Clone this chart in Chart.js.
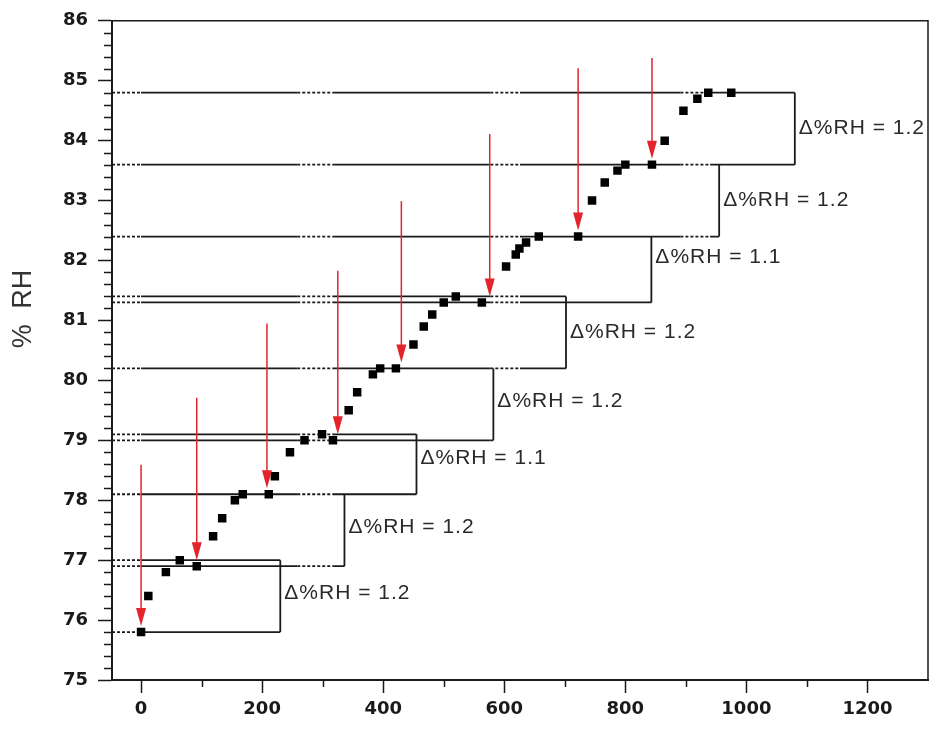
<!DOCTYPE html>
<html>
<head>
<meta charset="utf-8">
<title>% RH steps</title>
<script src="https://cdn.jsdelivr.net/npm/chart.js@4.4.1/dist/chart.umd.min.js"></script>
<style>
  body { margin: 0; background: #fff; }
  #wrap { width: 934px; height: 733px; position: relative; }
</style>
</head>
<body>
<div id="wrap"><canvas id="rhChart"></canvas></div>
<script>
// measured points
const timeValues = [0, 12, 41, 64, 92, 119, 134, 155, 168, 211, 221, 246, 270, 299, 317, 343, 357, 383, 395, 421,
    450, 467, 481, 500, 520, 563, 603, 619, 625, 636, 657, 722, 745, 766, 787, 800, 844, 865, 896, 919, 937, 975];
const rhValues = [75.8, 76.4, 76.8, 77.0, 76.9, 77.4, 77.7, 78.0, 78.1, 78.1, 78.4, 78.8, 79.0, 79.1, 79.0, 79.5, 79.8, 80.1, 80.2, 80.2,
    80.6, 80.9, 81.1, 81.3, 81.4, 81.3, 81.9, 82.1, 82.2, 82.3, 82.4, 82.4, 83.0, 83.3, 83.5, 83.6, 83.6, 84.0, 84.5, 84.7, 84.8, 84.8];

// step brackets
const stepLow = [75.8, 76.9, 78.1, 79.0, 80.2, 81.3, 82.4, 83.6];
const stepHigh = [77.0, 78.1, 79.1, 80.2, 81.4, 82.4, 83.6, 84.8];
const stepX = [230, 336, 455, 582, 702, 843, 955, 1080];
const stepText = ['Δ%RH = 1.2', 'Δ%RH = 1.2', 'Δ%RH = 1.1', 'Δ%RH = 1.2', 'Δ%RH = 1.2', 'Δ%RH = 1.1', 'Δ%RH = 1.2', 'Δ%RH = 1.2'];
const stepTextY = [76.45, 77.55, 78.7, 79.65, 80.8, 82.05, 83.0, 84.2];

// red arrows
const arrowX = [0, 92, 208, 325, 430, 576, 722, 844];
const arrowTop = [78.59, 79.71, 80.95, 81.83, 82.99, 84.11, 85.21, 85.38];
const arrowTarget = [75.8, 76.9, 78.1, 79.0, 80.2, 81.3, 82.4, 83.6];

const xTicks = [0, 200, 400, 600, 800, 1000, 1200];
const yTicks = [75, 76, 77, 78, 79, 80, 81, 82, 83, 84, 85, 86];
const X_MIN = -48;
const X_MAX = 1300;

// dotted runs along the guide lines
const dotRuns = [[258, 316], [577, 626], [891, 940]];

document.addEventListener('DOMContentLoaded', function() {
    const ink = '#1a1a1a';

    // every level line runs out to the furthest bracket that uses it
    const levelEnd = new Map();
    stepLow.concat(stepHigh).forEach((lv, i) => {
        const bx = stepX[i % stepX.length];
        levelEnd.set(lv, Math.max(levelEnd.get(lv) || 0, bx));
    });

    const dottedStarts = new Set([X_MIN].concat(dotRuns.map(r => r[0])));

    function guideLine(level, end) {
        const xs = [X_MIN, 0];
        dotRuns.forEach(r => {
            if (r[0] < end) {
                xs.push(r[0]);
                if (r[1] < end) xs.push(r[1]);
            }
        });
        xs.push(end);
        return {
            data: xs.map(v => ({ x: v, y: level })),
            showLine: true,
            borderColor: ink,
            borderWidth: 1.8,
            pointRadius: 0,
            segment: {
                borderDash: c => dottedStarts.has(c.p0.parsed.x) ? [3, 2] : undefined
            }
        };
    }

    const datasets = [{
        data: timeValues.map((t, i) => ({ x: t, y: rhValues[i] })),
        pointStyle: 'rect',
        pointRadius: 6,
        backgroundColor: '#000',
        borderColor: '#000',
        borderWidth: 0
    }];

    levelEnd.forEach((end, level) => datasets.push(guideLine(level, end)));

    stepX.forEach((bx, i) => {
        datasets.push({
            data: [{ x: bx, y: stepLow[i] }, { x: bx, y: stepHigh[i] }],
            showLine: true,
            borderColor: ink,
            borderWidth: 1.8,
            pointRadius: 0
        });
    });

    const decorations = {
        id: 'decorations',
        afterDatasetsDraw(chart) {
            const { ctx, chartArea: a, scales: { x, y } } = chart;
            ctx.save();

            // frame top and right
            ctx.strokeStyle = ink;
            ctx.lineWidth = 1.5;
            ctx.beginPath();
            ctx.moveTo(a.left, a.top);
            ctx.lineTo(a.right, a.top);
            ctx.lineTo(a.right, a.bottom);
            ctx.stroke();

            // arrows
            ctx.strokeStyle = '#e3242b';
            ctx.fillStyle = '#e3242b';
            arrowX.forEach((v, i) => {
                const px = x.getPixelForValue(v);
                const top = y.getPixelForValue(arrowTop[i]);
                const tip = y.getPixelForValue(arrowTarget[i]) - 6;
                ctx.lineWidth = 1.5;
                ctx.beginPath();
                ctx.moveTo(px, top);
                ctx.lineTo(px, tip - 12);
                ctx.stroke();
                ctx.beginPath();
                ctx.moveTo(px, tip);
                ctx.lineTo(px - 5, tip - 18);
                ctx.lineTo(px + 5, tip - 18);
                ctx.closePath();
                ctx.fill();
            });

            // bracket labels
            ctx.fillStyle = '#2a2a2a';
            ctx.font = '21px "Liberation Sans", Arial, sans-serif';
            ctx.textAlign = 'left';
            ctx.textBaseline = 'middle';
            if ('letterSpacing' in ctx) ctx.letterSpacing = '1px';
            stepText.forEach((t, i) => {
                ctx.fillText(t, x.getPixelForValue(stepX[i]) + 4, y.getPixelForValue(stepTextY[i]));
            });
            ctx.restore();
        },
        afterDraw(chart) {
            const { ctx, chartArea: a, scales: { x, y } } = chart;
            ctx.save();
            ctx.strokeStyle = ink;
            ctx.lineWidth = 1.5;

            // minor ticks
            ctx.beginPath();
            for (let v = 75.2; v < 86; v += 0.2) {
                if (Math.abs(v - Math.round(v)) < 0.01) continue;
                const py = Math.round(y.getPixelForValue(v)) + 0.5;
                ctx.moveTo(a.left, py);
                ctx.lineTo(a.left - 8, py);
            }
            for (let v = 100; v < X_MAX; v += 200) {
                const px = Math.round(x.getPixelForValue(v)) + 0.5;
                ctx.moveTo(px, a.bottom);
                ctx.lineTo(px, a.bottom + 7);
            }
            ctx.stroke();

            // y title
            ctx.translate(24, 309);
            ctx.rotate(-Math.PI / 2);
            ctx.font = '27px "Liberation Sans", Arial, sans-serif';
            ctx.fillStyle = '#333';
            ctx.textAlign = 'center';
            ctx.textBaseline = 'middle';
            if ('wordSpacing' in ctx) ctx.wordSpacing = '8px';
            ctx.fillText('% RH', 0, 0);
            ctx.restore();
        }
    };

    const tickFont = { family: '"DejaVu Sans", sans-serif', size: 18, weight: 'bold' };

    new Chart(document.getElementById('rhChart'), {
        type: 'scatter',
        data: { datasets: datasets },
        options: {
            responsive: true,
            maintainAspectRatio: false,
            animation: false,
            layout: { padding: { top: 15, right: 2, left: 0, bottom: 0 } },
            plugins: {
                legend: { display: false },
                tooltip: { enabled: false }
            },
            scales: {
                x: {
                    type: 'linear',
                    min: X_MIN,
                    max: X_MAX,
                    afterBuildTicks: s => { s.ticks = xTicks.map(v => ({ value: v })); },
                    afterFit: s => { s.height = 53; },
                    grid: { drawOnChartArea: false, tickLength: 13, tickColor: ink, tickWidth: 1.5 },
                    border: { color: ink, width: 2 },
                    ticks: { font: tickFont, color: ink, padding: 6, maxRotation: 0, callback: v => String(v) }
                },
                y: {
                    type: 'linear',
                    min: 75,
                    max: 86,
                    afterBuildTicks: s => { s.ticks = yTicks.map(v => ({ value: v })); },
                    afterFit: s => { s.width = 112; },
                    grid: { drawOnChartArea: false, tickLength: 14, tickColor: ink, tickWidth: 1.5 },
                    border: { color: ink, width: 2 },
                    ticks: { font: tickFont, color: ink, padding: 10, callback: v => String(v) }
                }
            }
        },
        plugins: [decorations]
    });
});
</script>
</body>
</html>
